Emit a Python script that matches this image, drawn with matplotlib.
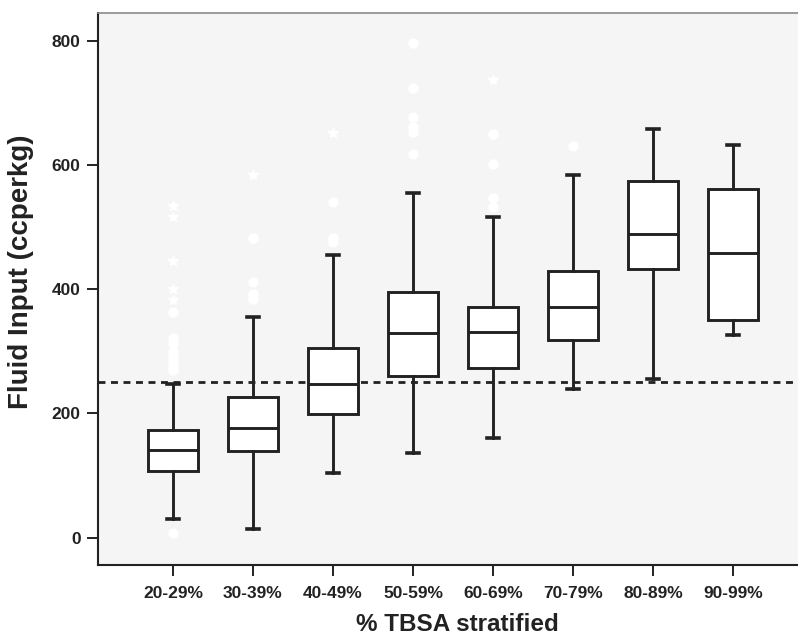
import matplotlib
matplotlib.use('Agg')
import matplotlib.pyplot as plt

# data
groups = ['20-29%', '30-39%', '40-49%', '50-59%', '60-69%', '70-79%', '80-89%', '90-99%']
q1 = [108, 139, 199, 260, 274, 319, 432, 351]
med = [142, 176, 248, 330, 331, 371, 489, 458]
q3 = [173, 227, 305, 395, 372, 429, 575, 561]
whis_lo = [30, 14, 104, 137, 160, 239, 256, 327]
whis_hi = [248, 356, 455, 555, 517, 584, 658, 633]
# circles (outliers) and stars (extremes)
outliers = [
    [7, 364, 322, 314, 300, 293, 287, 281, 275, 270],
    [483, 411, 392, 385],
    [540, 483, 476],
    [796, 725, 678, 662, 654, 618],
    [650, 602, 547, 533],
    [630],
    [],
    [],
]
extremes = [
    [534, 516, 445, 400, 382],
    [584],
    [652],
    [],
    [737],
    [],
    [],
    [],
]
cutoff = 250

plt.rcParams['font.family'] = ['Liberation Sans', 'DejaVu Sans']
plt.rcParams['font.weight'] = 'bold'

dark = '#222222'

fig = plt.figure(figsize=(7.98, 6.36), dpi=100)
ax = fig.add_axes([98 / 798, 1 - 565 / 636, 700 / 798, 552 / 636])
ax.set_facecolor('#f5f5f5')

stats = []
for i in range(len(groups)):
    stats.append(dict(label=groups[i], q1=q1[i], med=med[i], q3=q3[i],
                      whislo=whis_lo[i], whishi=whis_hi[i], fliers=outliers[i]))

ax.axhline(cutoff, color=dark, linestyle=(0, (2.5, 2.0)), linewidth=2, zorder=1)

ax.bxp(stats, positions=range(len(groups)), widths=0.62, capwidths=0.16,
       patch_artist=True,
       boxprops=dict(facecolor='white', edgecolor=dark, linewidth=2.1),
       medianprops=dict(color=dark, linewidth=2.1),
       whiskerprops=dict(color=dark, linewidth=2.1),
       capprops=dict(color=dark, linewidth=2.6),
       flierprops=dict(marker='o', markerfacecolor='white', markeredgecolor='none',
                       markersize=7.5),
       zorder=2)

for i, e in enumerate(extremes):
    if e:
        ax.plot([i] * len(e), e, linestyle='none', marker='*', color='white',
                markersize=7, zorder=3)

ax.set_xlim(-0.9375, 7.8125)
ax.set_ylim(-44, 845)
ax.set_yticks([0, 200, 400, 600, 800])
ax.set_xticks(range(len(groups)))
ax.set_xticklabels(groups)

ax.tick_params(axis='both', colors=dark, labelsize=12.5, length=8, width=1.4)
ax.tick_params(axis='x', pad=7)
ax.tick_params(axis='y', pad=4.5)
for lab in ax.get_xticklabels() + ax.get_yticklabels():
    lab.set_fontweight('bold')
    lab.set_color(dark)

ax.spines['left'].set_color(dark)
ax.spines['left'].set_linewidth(1.5)
ax.spines['bottom'].set_color(dark)
ax.spines['bottom'].set_linewidth(1.5)
ax.spines['top'].set_color('#8a8a8a')
ax.spines['top'].set_linewidth(1.2)
ax.spines['right'].set_visible(False)

ax.set_ylabel('Fluid Input (ccperkg)', fontsize=20, fontweight='bold', color=dark)
ax.set_xlabel('% TBSA stratified', fontsize=17.5, fontweight='bold', color=dark)
ax.yaxis.set_label_coords(-0.11, 0.531)
ax.xaxis.set_label_coords(0.514, -0.107)
ax.xaxis.label.set_va('center')
ax.yaxis.label.set_va('center')

fig.savefig('out.png', dpi=100)
